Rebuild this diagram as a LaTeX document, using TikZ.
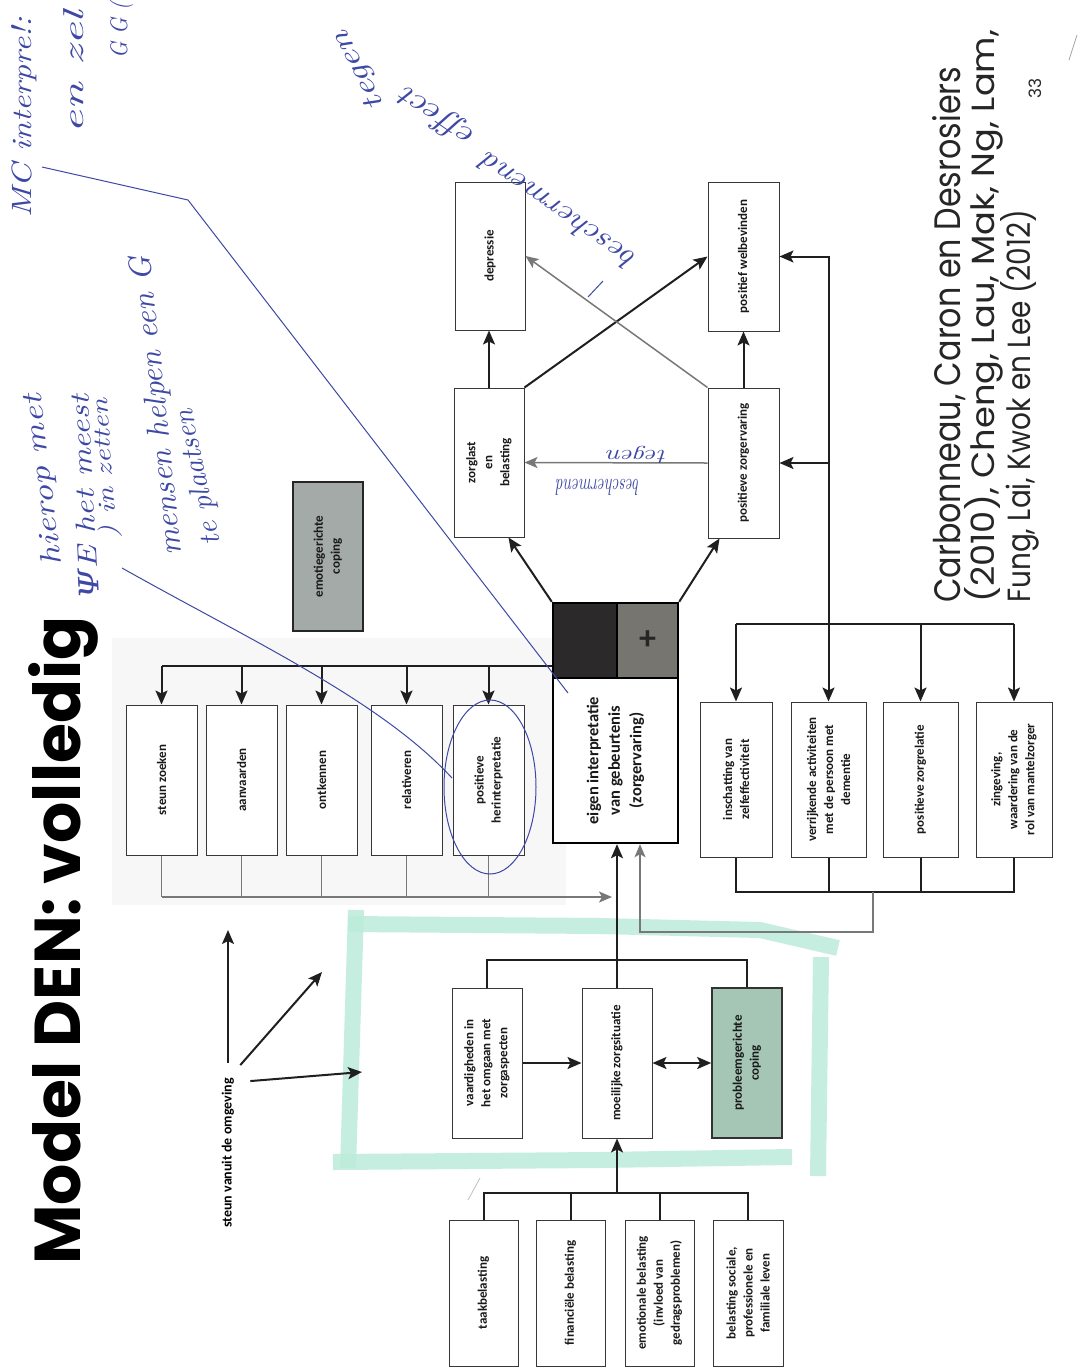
\documentclass[tikz,border=0pt]{standalone}
\usepackage{fontspec}
\usepackage{graphicx}
\usetikzlibrary{arrows.meta,calc}
\newfontfamily\boxfont{Carlito}
\newfontfamily\titlefont{Poppins}
\newfontfamily\greekhand{DejaVu Serif}
\definecolor{ink}{RGB}{62,72,165}
\definecolor{mint}{RGB}{188,236,219}
\definecolor{gline}{RGB}{120,120,120}
\definecolor{boxline}{RGB}{55,55,55}
\definecolor{emofill}{RGB}{163,170,168}
\definecolor{probfill}{RGB}{165,198,180}
\definecolor{minusfill}{RGB}{44,41,42}
\definecolor{plusfill}{RGB}{118,117,112}
\tikzset{
 bx/.style={draw=boxline, line width=1pt, fill=white, rotate=90, align=center, inner sep=2pt, text=black!90,
   font=\boxfont\bfseries\fontsize{13}{17}\selectfont, minimum width=150pt, minimum height=71pt},
 ln/.style={line width=2pt, draw=black!88},
 arr/.style={ln, -{Stealth[length=14pt,width=12pt,inset=3pt]}},
 darr/.style={ln, {Stealth[length=14pt,width=12pt,inset=3pt]}-{Stealth[length=14pt,width=12pt,inset=3pt]}},
 gl/.style={line width=1.5pt, draw=gline},
 garr/.style={gl, -{Stealth[length=13pt,width=11pt,inset=3pt]}},
 hand/.style={text=ink, font=\rmfamily\itshape, inner sep=0pt},
 inkline/.style={draw=ink, line width=1pt},
}
\begin{document}
\begin{tikzpicture}[x=1pt,y=-1pt]
\useasboundingbox[fill=white] (0,0) rectangle (1081,1369);

% faint scan shading
\fill[black!3] (112,638) rectangle (566,905);

% highlighter
\begin{scope}[mint, line width=16pt, opacity=.85]
\draw (356,910) -- (348,1168);
\draw (348,924) -- (600,926) -- (760,930) -- (838,948);
\draw (333,1162) -- (600,1160) -- (792,1157);
\draw (821,957) -- (818,1176);
\end{scope}

% title
\node[rotate=90, anchor=base west, inner sep=0pt] (title) at (80,1265)
  {\resizebox{648pt}{!}{\titlefont\bfseries Model DEN: volledig}};

% citation
\node[rotate=90, anchor=base west, inner sep=0pt, text=black!85] (cit1) at (960,603)
  {\resizebox{536pt}{28pt}{\titlefont Carbonneau, Caron en Desrosiers}};
\node[rotate=90, anchor=base west, inner sep=0pt, text=black!85] (cit2) at (994,603)
  {\resizebox{573pt}{30pt}{\titlefont (2010), Cheng, Lau, Mak, Ng, Lam,}};
\node[rotate=90, anchor=base west, inner sep=0pt, text=black!85] (cit3) at (1030,603)
  {\resizebox{393pt}{30pt}{\titlefont Fung, Lai, Kwok en Lee (2012)}};
\node[rotate=90, inner sep=0pt, text=black!85, font=\titlefont\fontsize{17}{17}\selectfont] (pnum) at (1035,88) {33};

% coping boxes
\node[bx] (steun) at (161.5,780) {steun zoeken};
\node[bx] (aanv) at (241.5,780) {aanvaarden};
\node[bx] (ontk) at (321.5,780) {ontkennen};
\node[bx] (rel) at (406.5,780) {relativeren};
\node[bx] (pher) at (488.5,780) {positieve\\herinterpretatie};

\node[bx, fill=emofill, draw=black!85, line width=1.8pt, minimum width=149pt, minimum height=70pt] (emo) at (328,556.5) {emotiegerichte\\coping};

% central box
\node[bx, draw=black, line width=2.4pt, minimum width=165pt, minimum height=125pt,
  font=\boxfont\bfseries\fontsize{16.5}{21.5}\selectfont] (eigen) at (615.5,760.5)
  {eigen interpretatie\\van gebeurtenis\\(zorgervaring)};
\node[draw=black, line width=2.4pt, fill=minusfill, minimum width=64pt, minimum height=75pt, inner sep=0pt] (minus) at (585,640.5) {};
\node[draw=black, line width=2.4pt, fill=plusfill, minimum width=61pt, minimum height=75pt, inner sep=0pt,
  text=black!85, font=\boxfont\bfseries\fontsize{34}{34}\selectfont] (plus) at (647.5,640.5) {+};

% outcome boxes
\node[bx, minimum width=149pt, minimum height=70pt] (zorg) at (489,462.5) {zorglast\\en\\belasting};
\node[bx, minimum width=150pt, minimum height=71pt] (poszorg) at (743.5,463) {positieve zorgervaring};
\node[bx, minimum width=148pt, minimum height=70pt] (depr) at (490,256) {depressie};
\node[bx, minimum width=149pt, minimum height=71pt] (welb) at (743.5,256.5) {positief welbevinden};

% right group
\node[bx, minimum width=155pt, minimum height=72pt] (insch) at (736,779.5) {inschatting van\\zelfeffectiviteit};
\node[bx, minimum width=155pt, minimum height=75pt] (verr) at (828.5,779.5) {verrijkende activiteiten\\met de persoon met\\dementie};
\node[bx, minimum width=155pt, minimum height=75pt] (pzr) at (920.5,779.5) {positieve zorgrelatie};
\node[bx, minimum width=155pt, minimum height=76pt] (zing) at (1014,779.5) {zingeving,\\waardering van de\\rol van mantelzorger};

% middle group
\node[bx, minimum width=150pt, minimum height=70pt] (vaard) at (487,1063) {vaardigheden in\\het omgaan met\\zorgaspecten};
\node[bx, minimum width=150pt, minimum height=70pt] (moeil) at (617,1063) {moeilijke zorgsituatie};
\node[bx, fill=probfill, draw=black!80, line width=1.6pt, minimum width=150pt, minimum height=70pt] (probl) at (747,1063) {probleemgerichte\\coping};

% bottom group
\node[bx, minimum width=146pt, minimum height=69pt] (taak) at (483.5,1293) {taakbelasting};
\node[bx, minimum width=146pt, minimum height=69pt] (fin) at (570.5,1293) {financiële belasting};
\node[bx, minimum width=146pt, minimum height=69pt] (emot) at (659.5,1293) {emotionale belasting\\(invloed van\\gedragsproblemen)};
\node[bx, minimum width=146pt, minimum height=70pt] (soc) at (748,1293) {belasting sociale,\\professionele en\\familiale leven};

% steun vanuit de omgeving
\node[rotate=90, inner sep=1pt, font=\boxfont\bfseries\fontsize{14}{16}\selectfont] (omg) at (228,1153) {steun vanuit de omgeving};
\coordinate (o1) at (228,930);
\coordinate (o2) at (322,972);
\coordinate (o3) at (362,1072);
\draw[arr, shorten <=14pt] (omg.east) -- (o1);
\draw[arr] ($(omg.south east)+(5,-12)$) -- (o2);
\draw[arr] ($(omg.south east)+(15,4)$) -- (o3);

% coping bar
\coordinate (cbar) at (minus.west |- 0,666);
\draw[ln] (cbar) -- (steun.east |- cbar);
\foreach \n in {steun,aanv,ontk,rel,pher} \draw[arr] (\n.east |- cbar) -- (\n.east);

% gray bar from coping boxes
\coordinate (gbar) at (612,897);
\foreach \n in {steun,aanv,ontk,rel,pher} \draw[gl] (\n.west) -- (\n.west |- gbar);
\draw[garr] (steun.west |- gbar) -- (gbar);

% main vertical
\draw[arr] (moeil.east) -- (moeil.east |- eigen.west);

% middle bracket
\coordinate (mbar) at (617,960);
\draw[ln] (vaard.east) -- (vaard.east |- mbar) -- (probl.east |- mbar) -- (probl.east);
\draw[arr] (vaard.south) -- (moeil.north);
\draw[darr] (moeil.south) -- (probl.north);

% bottom bracket
\coordinate (bbar) at (617,1193);
\draw[ln] (taak.east) -- (taak.east |- bbar) -- (soc.east |- bbar) -- (soc.east);
\draw[ln] (fin.east) -- (fin.east |- bbar);
\draw[ln] (emot.east) -- (emot.east |- bbar);
\draw[arr] (moeil.west |- bbar) -- (moeil.west);

% from the +/- square
\draw[arr] (minus.north west) -- ($(zorg.south west)+(-16,0)$);
\draw[arr] (plus.north east) -- ($(poszorg.north west)+(12,0)$);

% outcomes
\draw[arr] (zorg.east) -- (zorg.east |- depr.west);
\draw[arr] (poszorg.east) -- (poszorg.east |- welb.west);
\draw[arr] (zorg.south east) -- (welb.north);
\draw[garr] (poszorg.north east) -- (depr.south);
\draw[garr] (poszorg.north) -- (zorg.south);

% right group connectors
\coordinate (rbar) at (828.5,624);
\draw[ln] (insch.east |- rbar) -- (zing.east |- rbar);
\foreach \n in {insch,verr,pzr,zing} \draw[arr] (\n.east |- rbar) -- (\n.east);
\draw[arr] (rbar) -- (rbar |- welb.south) -- (welb.south);
\draw[arr] (rbar |- poszorg.south) -- (poszorg.south);

\coordinate (rbb) at (873,892);
\draw[ln] (insch.west) -- (insch.west |- rbb) -- (zing.west |- rbb) -- (zing.west);
\draw[ln] (verr.west) -- (verr.west |- rbb);
\draw[ln] (pzr.west) -- (pzr.west |- rbb);
\coordinate (gcorner) at (640,932);
\draw[garr] (rbb) -- (rbb |- gcorner) -- (gcorner) -- (gcorner |- eigen.west);

% handwritten annotations
\node[hand, rotate=90] (h1) at (24,117) {\resizebox{200pt}{20pt}{MC interpre!:}};
\node[hand, rotate=90] (h2) at (74,72) {\resizebox{123pt}{20pt}{en zel}};
\node[hand, rotate=90] (h3) at (121,30) {\resizebox{57pt}{18pt}{G G (}};
\node[hand, rotate=97] (h4) at (44,480) {\resizebox{172pt}{20pt}{hierop met}};
\node[hand, rotate=93] (h5) at (84,497) {\resizebox{205pt}{20pt}{{\greekhand\itshape Ψ}E het meest}};
\node[hand, rotate=94] (h6) at (106,468) {\resizebox{140pt}{18pt}{) in zetten}};
\node[hand, rotate=96] (h7) at (158,406) {\resizebox{300pt}{22pt}{mensen helpen een G}};
\node[hand, rotate=102] (h8) at (199,477) {\resizebox{138pt}{20pt}{te plaatsen}};
\node[hand, rotate=145] (h9) at (558,212) {\resizebox{182pt}{20pt}{beschermend}};
\node[hand, rotate=145] (h10) at (438,117) {\resizebox{85pt}{22pt}{effect}};
\node[hand, rotate=117] (h11) at (360,70) {\resizebox{85pt}{18pt}{tegen}};
\node[hand, rotate=180] (h12) at (598,487) {\resizebox{83pt}{16pt}{beschermend}};
\node[hand, rotate=180] (h13) at (637,455) {\resizebox{60pt}{13pt}{tegen}};

\draw[inkline] (42,167) -- (188,200) -- (568,693);
\draw[inkline] (122,568) .. controls (250,640) and (380,700) .. (452,778);
\draw[inkline] (490,787) ellipse [x radius=46pt, y radius=87pt];
\draw[inkline] (588,297) -- (603,281);

% faint pencil marks
\draw[black!35, line width=0.8pt] (1077,35) -- (1069,60);
\draw[black!25, line width=0.8pt] (480,1178) -- (468,1200);
\end{tikzpicture}
\end{document}
